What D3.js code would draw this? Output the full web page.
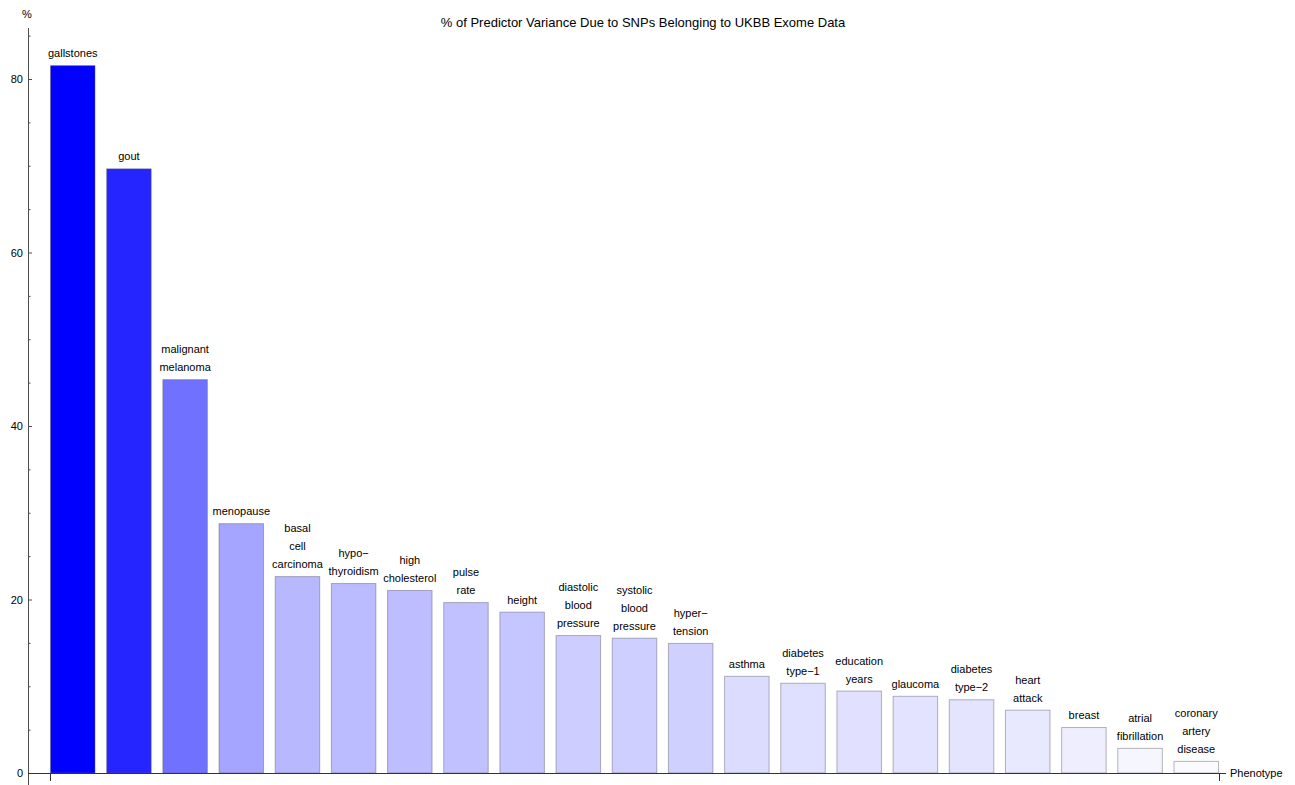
<!DOCTYPE html>
<html>
<head>
<meta charset="utf-8">
<script src="https://cdn.jsdelivr.net/npm/d3@7"></script>
<style>
  body { margin: 0; background: #fff; }
  text { font-family: "Liberation Sans", Arial, sans-serif; fill: #000; }
</style>
</head>
<body>
<div id="chart"></div>
<script>
// DATA
const phenotypes = [
  'gallstones', 'gout', 'malignant\nmelanoma', 'menopause', 'basal\ncell\ncarcinoma',
  'hypo\u2212\nthyroidism', 'high\ncholesterol', 'pulse\nrate', 'height',
  'diastolic\nblood\npressure', 'systolic\nblood\npressure', 'hyper\u2212\ntension',
  'asthma', 'diabetes\ntype\u22121', 'education\nyears', 'glaucoma', 'diabetes\ntype\u22122',
  'heart\nattack', 'breast', 'atrial\nfibrillation', 'coronary\nartery\ndisease'
];
const pctValues = [
  81.6, 69.7, 45.4, 28.8, 22.7,
  21.9, 21.1, 19.7, 18.6,
  15.9, 15.6, 15.0,
  11.2, 10.4, 9.5, 8.9, 8.5,
  7.3, 5.3, 2.9, 1.4
];
const majorTicks = [0, 20, 40, 60, 80];
const minorTicks = [5, 10, 15, 25, 30, 35, 45, 50, 55, 65, 70, 75, 85];

const chartTitle = '% of Predictor Variance Due to SNPs Belonging to UKBB Exome Data';
const yLabel = '%';
const xLabel = 'Phenotype';

// DIMENSIONS
const width = 1295;
const height = 785;

const svg = d3.select('#chart').append('svg')
  .attr('width', width)
  .attr('height', height);

// SCALES
const y = d3.scaleLinear().domain([0, 80]).range([773, 79]);
const x = d3.scaleBand()
  .domain(phenotypes.map((d, i) => i))
  .range([50, 1219])
  .paddingInner(0.19)
  .paddingOuter(0);
const maxVal = d3.max(pctValues);
const color = d3.scaleLinear().domain([0, maxVal]).range(['#ffffff', '#0000ff']);

const axisX = 28;
const axisColor = '#4d4d4d';

// BARS
const bars = svg.append('g').attr('class', 'bars');
bars.selectAll('rect')
  .data(pctValues)
  .enter()
  .append('rect')
  .attr('x', (d, i) => x(i) + 0.5)
  .attr('y', d => y(d) + 0.5)
  .attr('width', x.bandwidth() - 1)
  .attr('height', d => y(0) - y(d) - 0.5)
  .style('fill', d => color(d))
  .style('stroke', 'rgba(90,90,110,0.45)')
  .style('stroke-width', 1);

// BAR LABELS
const lineGap = 18;
const labels = svg.append('g').attr('class', 'labels');
phenotypes.forEach((name, i) => {
  const lines = name.split('\n');
  const cx = x(i) + x.bandwidth() / 2;
  const base = y(pctValues[i]) - 8;
  lines.forEach((ln, j) => {
    labels.append('text')
      .attr('x', cx)
      .attr('y', base - (lines.length - 1 - j) * lineGap)
      .attr('text-anchor', 'middle')
      .style('font-size', '11px')
      .text(ln);
  });
});

// Y AXIS
const yAxis = d3.axisLeft(y).tickValues(majorTicks).tickSizeInner(-4).tickSizeOuter(0).tickPadding(5);
const yg = svg.append('g')
  .attr('transform', `translate(${axisX},0)`)
  .call(yAxis);
yg.select('.domain').remove();
yg.selectAll('line').style('stroke', axisColor);
yg.selectAll('text').style('font-size', '11px').style('font-family', '"Liberation Sans", Arial, sans-serif');

const yMinor = d3.axisLeft(y).tickValues(minorTicks).tickSizeInner(-2.5).tickSizeOuter(0).tickFormat('');
const ymg = svg.append('g')
  .attr('transform', `translate(${axisX},0)`)
  .call(yMinor);
ymg.select('.domain').remove();
ymg.selectAll('line').style('stroke', axisColor);

svg.append('line')
  .attr('x1', axisX + 0.5).attr('x2', axisX + 0.5)
  .attr('y1', 28).attr('y2', 785)
  .style('stroke', axisColor);

// X AXIS
svg.append('line')
  .attr('x1', axisX).attr('x2', 1226)
  .attr('y1', y(0) + 0.5).attr('y2', y(0) + 0.5)
  .style('stroke', '#333');
[x.range()[0], x.range()[1]].forEach(px => {
  svg.append('line')
    .attr('x1', px + 0.5).attr('x2', px + 0.5)
    .attr('y1', y(0)).attr('y2', y(0) + 8)
    .style('stroke', '#333');
});

// TEXT
svg.append('text')
  .attr('x', 643)
  .attr('y', 27)
  .attr('text-anchor', 'middle')
  .style('font-size', '13px')
  .text(chartTitle);

svg.append('text')
  .attr('x', 27)
  .attr('y', 18)
  .attr('text-anchor', 'middle')
  .style('font-size', '11px')
  .text(yLabel);

svg.append('text')
  .attr('x', 1230)
  .attr('y', y(0) + 4)
  .style('font-size', '11px')
  .text(xLabel);
</script>
</body>
</html>
